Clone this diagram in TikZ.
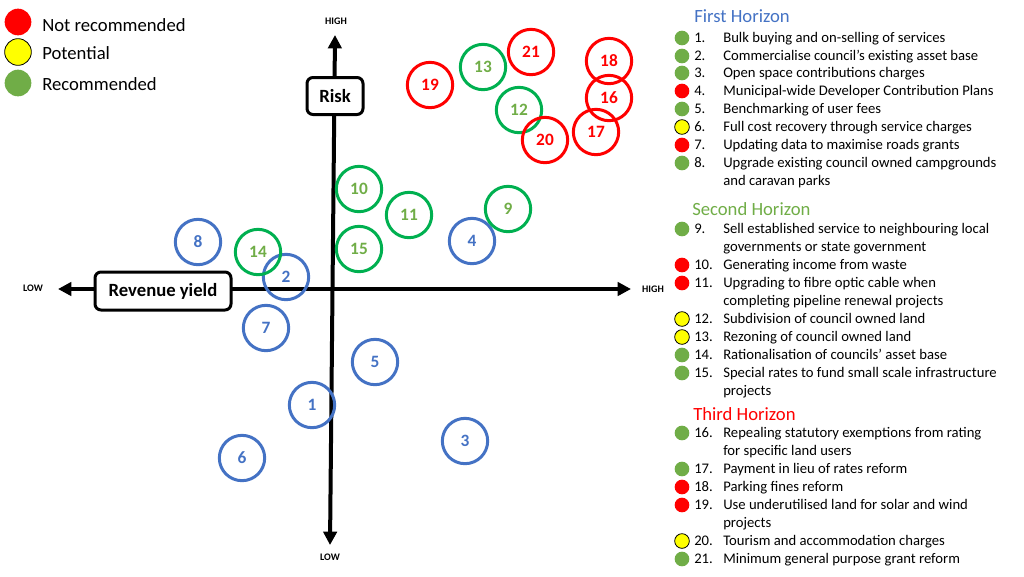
\documentclass[tikz,border=0pt]{standalone}
\usepackage{fontspec}
\setmainfont{Carlito}
\usetikzlibrary{arrows.meta}
\definecolor{hblue}{HTML}{4472C4}
\definecolor{hgreen}{HTML}{70AD47}
\definecolor{ringgreen}{HTML}{00B050}
\definecolor{hred}{HTML}{FF0000}
\definecolor{hyellow}{HTML}{FFFF00}

\begin{document}
\begin{tikzpicture}[x=0.75pt,y=-0.75pt,
  axis/.style={line width=3pt,{Triangle[width=10pt,length=10pt]}-{Triangle[width=10pt,length=10pt]}},
  axislabel/.style={font=\fontsize{7.5}{9}\selectfont\bfseries,inner sep=0pt},
  axisbox/.style={draw,line width=2.25pt,rounded corners=4.5pt,fill=white,font=\fontsize{14}{16}\selectfont\bfseries,inner sep=0pt},
  option/.style={circle,line width=2.25pt,minimum size=34pt,inner sep=0pt,font=\fontsize{13}{15}\selectfont\bfseries},
  first/.style={option,draw=hblue,text=hblue},
  second/.style={option,draw=ringgreen,text=hgreen},
  third/.style={option,draw=hred,text=hred},
  rec/.style={fill=hgreen},
  notrec/.style={fill=hred},
  pot/.style={fill=hyellow,draw=black,line width=0.6pt},
  legenddot/.style={circle,inner sep=0pt,minimum size=20pt},
  legendtext/.style={anchor=base west,inner sep=0pt,font=\fontsize{14}{16}\selectfont},
  bullet/.style={circle,inner sep=0pt,minimum size=11pt},
  horizon/.style={anchor=base west,inner sep=0pt,font=\fontsize{14}{16}\selectfont},
  itemtext/.style={anchor=base west,inner sep=0pt,font=\fontsize{11}{13}\selectfont}]

  \useasboundingbox (0,0) rectangle (1024,576);

  % legend
  \node(lnot)[legenddot,notrec] at (18,22) {};
  \node(lpot)[legenddot,pot] at (18,52) {};
  \node(lrec)[legenddot,rec] at (18,83) {};
  \node(tnot)[legendtext] at (42,31) {Not recommended};
  \node(tpot)[legendtext] at (42,59) {Potential};
  \node(trec)[legendtext] at (42,90) {Recommended};

  % axes
  \coordinate(ytop) at (335,35);
  \coordinate(ybot) at (330,545);
  \coordinate(xlow) at (58,289);
  \coordinate(xhigh) at (631,289);
  \draw[axis] (ybot) -- (ytop);
  \draw[axis] (xlow) -- (xhigh);
  \node(risk)[axisbox,minimum width=42pt,minimum height=27.75pt] at (335,96) {Risk};
  \node(yield)[axisbox,minimum width=102pt,minimum height=28.5pt] at (163,291) {Revenue yield};
  \node(hightop)[axislabel] at (336,21) {HIGH};
  \node(lowbot)[axislabel] at (330,557) {LOW};
  \node(lowleft)[axislabel] at (33,288) {LOW};
  \node(highright)[axislabel] at (653,289) {HIGH};

  % options on the plot
  \foreach \n/\x/\y/\st in {1/312/405/first,2/286/277/first,3/465/441/first,4/472/241/first,
      5/375/362/first,6/242/458/first,7/266/328/first,8/198/242/first,
      9/508/209/second,10/359/189/second,11/409/215/second,12/519/110/second,
      13/483/67/second,14/258/252/second,15/359/249/second,
      16/609/98/third,17/596/132/third,18/609/61/third,19/430/85/third,
      20/545/140/third,21/531/52/third}
    \node(o\n)[\st] at (\x,\y) {\n};

  % list of options
  \node(h1)[horizon,text=hblue] at (694,22.7) {First Horizon};
  \node(h2)[horizon,text=hgreen] at (692,215.7) {Second Horizon};
  \node(h3)[horizon,text=hred] at (693,420.7) {Third Horizon};

  \foreach \y/\st/\n/\t in {38/rec/1/{Bulk buying and on-selling of services},
      56/rec/2/{Commercialise council’s existing asset base},
      73/rec/3/{Open space contributions charges},
      91/notrec/4/{Municipal-wide Developer Contribution Plans},
      109/rec/5/{Benchmarking of user fees},
      127/pot/6/{Full cost recovery through service charges},
      145/notrec/7/{Updating data to maximise roads grants},
      163/rec/8/{Upgrade existing council owned campgrounds},
      229/rec/9/{Sell established service to neighbouring local},
      265/notrec/10/{Generating income from waste},
      283/notrec/11/{Upgrading to fibre optic cable when},
      319/pot/12/{Subdivision of council owned land},
      337/pot/13/{Rezoning of council owned land},
      355/rec/14/{Rationalisation of councils’ asset base},
      373/rec/15/{Special rates to fund small scale infrastructure},
      433/rec/16/{Repealing statutory exemptions from rating},
      469/rec/17/{Payment in lieu of rates reform},
      487/notrec/18/{Parking fines reform},
      505/notrec/19/{Use underutilised land for solar and wind},
      541/pot/20/{Tourism and accommodation charges},
      559/rec/21/{Minimum general purpose grant reform}}
  {
    \node(b\n)[bullet,\st] at (682,\y) {};
    \node(n\n)[itemtext] at (694,\y+4.5) {\n.};
    \node(t\n)[itemtext] at (723,\y+4.5) {\t};
  }
  % second lines
  \foreach \y/\t in {181/{and caravan parks},247/{governments or state government},
      301/{completing pipeline renewal projects},391/{projects},
      451/{for specific land users},523/{projects}}
    \node(c\y)[itemtext] at (723,\y+4.5) {\t};
\end{tikzpicture}
\end{document}
